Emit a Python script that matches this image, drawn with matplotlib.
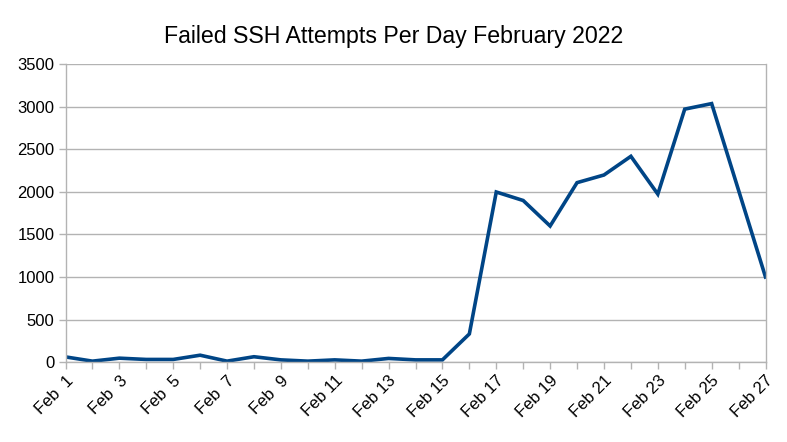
import matplotlib.pyplot as plt

plt.rcParams['font.family'] = ['Liberation Sans', 'DejaVu Sans']

days = list(range(1, 28))
attempts = [60, 10, 45, 30, 30, 80, 10, 62, 25, 10, 25, 10, 42, 25, 25,
            330, 2000, 1900, 1600, 2110, 2200, 2420, 1975, 2975, 3040, 2020, 1000]
tick_days = days[::2]
tick_labels = ['Feb  %d' % d if d < 10 else 'Feb %d' % d for d in tick_days]
y_ticks = [0, 500, 1000, 1500, 2000, 2500, 3000, 3500]

fig = plt.figure(figsize=(7.87, 4.42), dpi=100)
ax = fig.add_axes([65.5 / 787, 1 - 362 / 442, 700 / 787, (362 - 64.5) / 442])

ax.plot(days, attempts, color='#004586', linewidth=2.6, solid_joinstyle='miter')

ax.set_xlim(1, 27)
ax.set_ylim(0, 3500)
ax.set_yticks(y_ticks)
ax.set_xticks(days, minor=True)
ax.set_xticks(tick_days)
ax.set_xticklabels(tick_labels, rotation=45, ha='right', rotation_mode='anchor')
ax.tick_params(axis='x', which='both', length=5, color='#b3b3b3', width=1)
ax.tick_params(axis='y', length=5, color='#b3b3b3', width=1)
ax.tick_params(labelsize=12, pad=3)

ax.grid(axis='y', color='#b3b3b3', linewidth=1)
ax.set_axisbelow(True)
for side in ['left', 'bottom', 'right']:
    ax.spines[side].set_color('#b3b3b3')
    ax.spines[side].set_linewidth(1)
ax.spines['top'].set_visible(False)

fig.text(394 / 787, 1 - 37 / 442, 'Failed SSH Attempts Per Day February 2022',
         ha='center', va='center', fontsize=16.7)

fig.savefig('out.png', dpi=100)
